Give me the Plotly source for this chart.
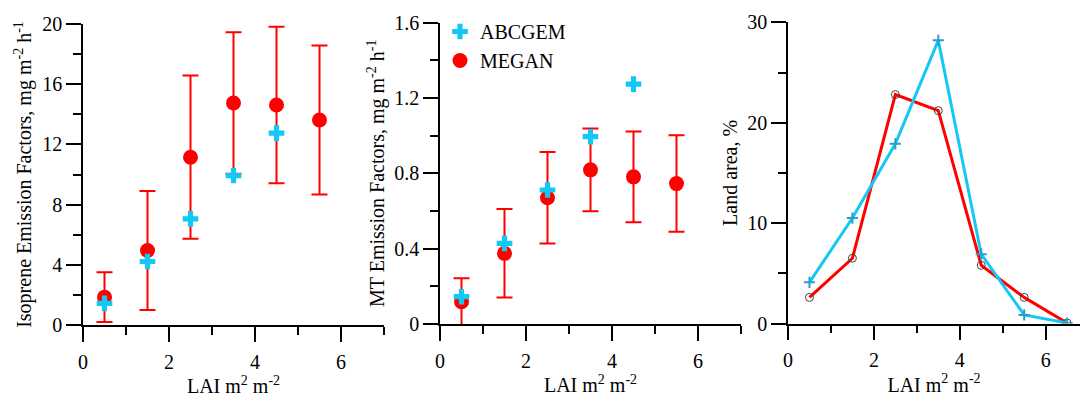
import plotly.graph_objects as go

# ---------------- data ----------------
lai_bins = [0.5, 1.5, 2.5, 3.5, 4.5, 5.5]
lai_bins_abc = [0.5, 1.5, 2.5, 3.5, 4.5]
lai_area = [0.5, 1.5, 2.5, 3.5, 4.5, 5.5, 6.5]

iso_megan = [1.85, 4.95, 11.15, 14.75, 14.62, 13.62]
iso_megan_err = [1.65, 3.95, 5.42, 4.7, 5.2, 4.95]
iso_abcgem = [1.44, 4.22, 7.05, 9.93, 12.75]

mt_megan = [0.118, 0.375, 0.670, 0.818, 0.781, 0.745]
mt_megan_err = [0.125, 0.235, 0.243, 0.220, 0.241, 0.256]
mt_abcgem = [0.145, 0.428, 0.711, 0.994, 1.273]

area_megan = [2.6, 6.5, 22.8, 21.2, 5.8, 2.6, 0.05]
area_abcgem = [4.1, 10.5, 17.9, 28.2, 6.9, 0.85, 0.05]

RED = "#ff0000"
CYAN = "#14c8f5"
FONT = "Liberation Serif, Times New Roman, serif"

fig = go.Figure()

# ---- panel 1: isoprene ----
fig.add_trace(go.Scatter(x=lai_bins, y=iso_megan, mode="markers", name="MEGAN",
                         marker=dict(symbol="circle", size=15, color=RED),
                         error_y=dict(type="data", array=iso_megan_err, color=RED,
                                      thickness=2, width=8),
                         xaxis="x", yaxis="y", showlegend=False))
fig.add_trace(go.Scatter(x=lai_bins_abc, y=iso_abcgem, mode="markers", name="ABCGEM",
                         marker=dict(symbol="cross", size=13, color=CYAN),
                         xaxis="x", yaxis="y", showlegend=False))

# ---- panel 2: monoterpenes ----
fig.add_trace(go.Scatter(x=lai_bins, y=mt_megan, mode="markers", name="MEGAN",
                         marker=dict(symbol="circle", size=15, color=RED),
                         error_y=dict(type="data", array=mt_megan_err, color=RED,
                                      thickness=2, width=8),
                         xaxis="x2", yaxis="y2", legendrank=2))
fig.add_trace(go.Scatter(x=lai_bins_abc, y=mt_abcgem, mode="markers", name="ABCGEM",
                         marker=dict(symbol="cross", size=13, color=CYAN),
                         xaxis="x2", yaxis="y2", legendrank=1))

# ---- panel 3: land area ----
fig.add_trace(go.Scatter(x=lai_area, y=area_megan, mode="lines+markers", name="MEGAN",
                         line=dict(color=RED, width=3),
                         marker=dict(symbol="circle-open", size=8, color="#444444",
                                     line=dict(color="#444444", width=1)),
                         xaxis="x3", yaxis="y3", showlegend=False))
fig.add_trace(go.Scatter(x=lai_area, y=area_abcgem, mode="lines+markers", name="ABCGEM",
                         line=dict(color=CYAN, width=3),
                         marker=dict(symbol="cross-thin", size=8, color="#2a9fc5",
                                     line=dict(color="#2a9fc5", width=2)),
                         xaxis="x3", yaxis="y3", showlegend=False))

W, H = 1080, 398


def xax(x0, x1, rng, anchor):
    return dict(domain=[x0 / W, x1 / W], range=rng, anchor=anchor, automargin=False,
                showline=True, linecolor="black", linewidth=1.5,
                ticks="outside", ticklen=15, tickwidth=1.5, tickcolor="black",
                tick0=0, dtick=2, showgrid=False, zeroline=False, ticklabelstandoff=3,
                minor=dict(ticks="outside", ticklen=8, tickwidth=1.5,
                           tickcolor="black", dtick=1, tick0=0, showgrid=False),
                tickfont=dict(family=FONT, size=20, color="black"),
                title=dict(text="LAI m<sup>2</sup> m<sup>-2</sup>",
                           font=dict(family=FONT, size=20, color="black"),
                           standoff=2))


def yax(top, bottom, rng, dtick, anchor, title, standoff):
    return dict(domain=[(H - bottom) / H, (H - top) / H], range=rng, anchor=anchor,
                automargin=False,
                showline=True, linecolor="black", linewidth=1.5,
                ticks="outside", ticklen=15, tickwidth=1.5, tickcolor="black",
                tick0=0, dtick=dtick, showgrid=False, zeroline=False,
                minor=dict(ticks="outside", ticklen=8, tickwidth=1.5,
                           tickcolor="black", dtick=dtick / 2, tick0=0, showgrid=False),
                tickfont=dict(family=FONT, size=20, color="black"),
                title=dict(text=title, font=dict(family=FONT, size=20, color="black"),
                           standoff=standoff))


fig.update_layout(
    width=W, height=H,
    margin=dict(l=0, r=0, t=0, b=0, autoexpand=False),
    paper_bgcolor="white", plot_bgcolor="white",
    font=dict(family=FONT, size=20, color="black"),
    xaxis=xax(83, 384, [0, 7], "y"),
    xaxis2=xax(440, 741, [0, 7], "y2"),
    xaxis3=xax(788, 1080, [0, 6.8], "y3"),
    yaxis=yax(24, 325, [0, 20], 4, "x",
              "Isoprene Emission Factors, mg m<sup>-2</sup> h<sup>-1</sup>", 5),
    yaxis2=yax(22.5, 324, [0, 1.6], 0.4, "x2",
               "MT Emission Factors, mg m<sup>-2</sup> h<sup>-1</sup>", 4),
    yaxis3=yax(22.3, 323.5, [0, 30], 10, "x3", "Land area, %", 4),
    legend=dict(x=440 / W, y=1 - 12 / H, xanchor="left", yanchor="top",
                bgcolor="rgba(0,0,0,0)", font=dict(family=FONT, size=20, color="black")),
)

fig.write_html("out.html", config={"displayModeBar": False},
               post_script="document.body.style.margin='0';document.body.style.padding='0';")
